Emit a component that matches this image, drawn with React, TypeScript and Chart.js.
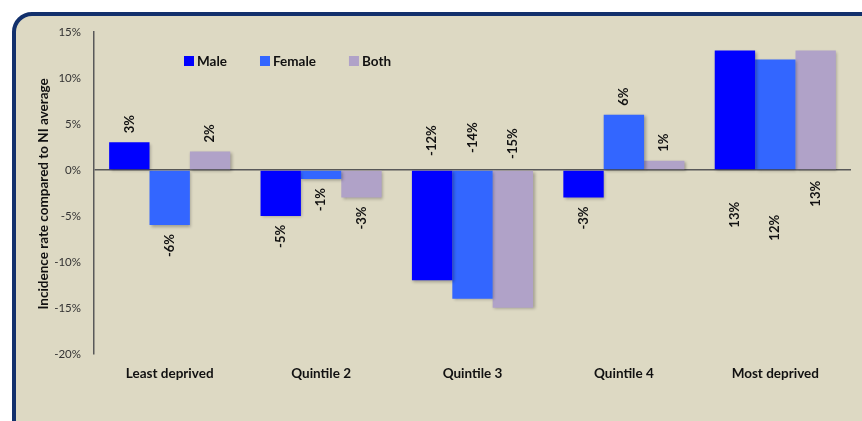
import React, { useEffect, useRef } from "react";
import { Chart, registerables } from "chart.js";

Chart.register(...registerables);

const categories = ["Least deprived", "Quintile 2", "Quintile 3", "Quintile 4", "Most deprived"];
const maleValues = [3, -5, -12, -3, 13];
const femaleValues = [-6, -1, -14, 6, 12];
const bothValues = [2, -3, -15, 1, 13];
const seriesNames = ["Male", "Female", "Both"];
const yTickMin = -20;
const yTickMax = 15;
const yTickStep = 5;
const yTitle = "Incidence rate compared to NI average";

const COLORS = ["#0000ff", "#3366ff", "#b0a2c8"];
const FONT = "Lato, 'Open Sans', sans-serif";

// label placement: default outside end; some categories have labels anchored at the zero line
// above: text starts this many px above zero line; below: text ends this many px below zero line
const labelAnchors: Record<number, { side: "above" | "below"; offsets: number[] }> = {
  2: { side: "above", offsets: [14, 17, 11] },
  4: { side: "below", offsets: [32, 45, 11] },
};

const shadowPlugin = {
  id: "barShadow",
  beforeDatasetsDraw(chart: any) {
    const ctx = chart.ctx;
    ctx.save();
    ctx.shadowColor = "rgba(0,0,0,0.28)";
    ctx.shadowBlur = 3;
    ctx.shadowOffsetX = 1.5;
    ctx.shadowOffsetY = 1.5;
  },
  afterDatasetsDraw(chart: any) {
    chart.ctx.restore();
  },
};

const labelPlugin = {
  id: "barLabels",
  afterDraw(chart: any) {
    const ctx = chart.ctx;
    const yScale = chart.scales.y;
    const zeroY = yScale.getPixelForValue(0);
    const area = chart.chartArea;
    ctx.save();
    ctx.fillStyle = "#111";
    ctx.font = `bold 13px ${FONT}`;
    ctx.textBaseline = "middle";
    const gap = 9;
    chart.data.datasets.forEach((ds: any, di: number) => {
      const meta = chart.getDatasetMeta(di);
      meta.data.forEach((el: any, i: number) => {
        const v = ds.data[i];
        const text = `${v}%`;
        ctx.save();
        const anchor = labelAnchors[i];
        if (anchor && anchor.side === "below") {
          ctx.translate(el.x, zeroY + anchor.offsets[di]);
          ctx.rotate(-Math.PI / 2);
          ctx.textAlign = "right";
        } else if (anchor && anchor.side === "above") {
          ctx.translate(el.x, zeroY - anchor.offsets[di]);
          ctx.rotate(-Math.PI / 2);
          ctx.textAlign = "left";
        } else if (v >= 0) {
          ctx.translate(el.x, el.y - gap);
          ctx.rotate(-Math.PI / 2);
          ctx.textAlign = "left";
        } else {
          ctx.translate(el.x, el.y + gap);
          ctx.rotate(-Math.PI / 2);
          ctx.textAlign = "right";
        }
        ctx.fillText(text, 0, 0);
        ctx.restore();
      });
    });

    // y-axis title
    ctx.save();
    ctx.font = `bold 13.5px ${FONT}`;
    ctx.fillStyle = "#111";
    ctx.textAlign = "center";
    ctx.textBaseline = "middle";
    ctx.translate(44, (area.top + area.bottom) / 2 + 1);
    ctx.rotate(-Math.PI / 2);
    ctx.fillText(yTitle, 0, 0);
    ctx.restore();

    // legend inside plot area
    let x = area.left + 90;
    const yc = area.top + 30;
    ctx.font = `bold 13.5px ${FONT}`;
    ctx.textAlign = "left";
    ctx.textBaseline = "middle";
    chart.data.datasets.forEach((ds: any) => {
      ctx.fillStyle = ds.backgroundColor;
      ctx.fillRect(x, yc - 6, 10, 10);
      ctx.fillStyle = "#111";
      ctx.fillText(ds.label, x + 13, yc);
      x += 13 + ctx.measureText(ds.label).width + 33;
    });
    ctx.restore();
  },
};

export default function App() {
  const canvasRef = useRef<HTMLCanvasElement | null>(null);

  useEffect(() => {
    if (!canvasRef.current) return;
    const chart = new Chart(canvasRef.current, {
      type: "bar",
      data: {
        labels: categories,
        datasets: [maleValues, femaleValues, bothValues].map((d, i) => ({
          label: seriesNames[i],
          data: d,
          backgroundColor: COLORS[i],
          borderWidth: 0,
          categoryPercentage: 0.8,
          barPercentage: 1,
        })),
      },
      options: {
        animation: false,
        responsive: false,
        devicePixelRatio: 1,
        layout: { padding: { left: 30, top: 32, right: 11, bottom: 27 } },
        plugins: {
          legend: { display: false },
          tooltip: { enabled: false },
        },
        scales: {
          x: {
            grid: { display: false, drawTicks: false },
            border: { display: false },
            ticks: {
              color: "#111",
              font: { family: FONT, size: 13.5, weight: "bold" },
              padding: 12,
              maxRotation: 0,
            },
          },
          y: {
            min: yTickMin,
            max: yTickMax,
            afterFit(scale: any) {
              scale.width = 64;
            },
            grid: {
              drawTicks: false,
              color: (c: any) => (c.tick && c.tick.value === 0 ? "#595959" : "rgba(0,0,0,0)"),
              lineWidth: 1.5,
            },
            border: { display: true, color: "#595959", width: 1.5 },
            ticks: {
              stepSize: yTickStep,
              color: "#333",
              font: { family: FONT, size: 11.5 },
              padding: 13,
              callback: (v: any) => `${v}%`,
            },
            title: { display: false },
          },
        },
      },
      plugins: [shadowPlugin, labelPlugin],
    });
    return () => chart.destroy();
  }, []);

  return (
    <div
      style={{
        position: "fixed",
        left: 0,
        top: 0,
        width: 862,
        height: 421,
        overflow: "hidden",
        background: "#ffffff",
      }}
    >
      <div
        style={{
          position: "absolute",
          left: 12,
          top: 12,
          width: 900,
          height: 500,
          border: "4px solid #12306c",
          borderRadius: 20,
          background: "#ddd9c3",
          boxSizing: "border-box",
        }}
      />
      <canvas
        ref={canvasRef}
        width={862}
        height={421}
        style={{ position: "absolute", left: 0, top: 0, width: 862, height: 421 }}
      />
    </div>
  );
}
